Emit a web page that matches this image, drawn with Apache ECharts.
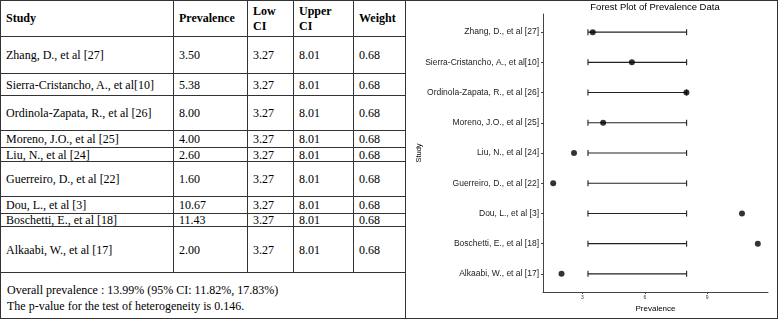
<!DOCTYPE html>
<html>
<head>
<meta charset="utf-8">
<script src="https://cdn.jsdelivr.net/npm/echarts@6/dist/echarts.min.js"></script>
<style>
  html, body { margin: 0; padding: 0; background: #fff; }
  #page { position: relative; width: 778px; height: 320px; overflow: hidden; }
  #tbl {
    position: absolute; left: 0; top: 0;
    border-collapse: collapse; table-layout: fixed;
    font-family: "Liberation Serif", "DejaVu Serif", serif;
    font-size: 12px; color: #000;
  }
  #tbl td, #tbl th {
    border: 1px solid #333; padding: 0 5px; line-height: 12px;
    text-align: left; vertical-align: middle; overflow: hidden; white-space: nowrap;
  }
  #tbl th { font-weight: bold; line-height: 15px; }
  #tbl td.foot { line-height: 16px; padding-left: 6px; padding-top: 4px; }
  #plotBox {
    position: absolute; left: 405px; top: 0; width: 371px; height: 317px;
    border: 1px solid #333;
  }
  #myChart { width: 371px; height: 317px; }
</style>
</head>
<body>
<div id="page">
  <table id="tbl"></table>
  <div id="plotBox"><div id="myChart"></div></div>
</div>
<script>
  // 数据
  var headers = ['Study', 'Prevalence', 'Low<br>CI', 'Upper<br>CI', 'Weight'];
  var studies = ['Zhang, D., et al [27]', 'Sierra-Cristancho, A., et al[10]', 'Ordinola-Zapata, R., et al [26]',
    'Moreno, J.O., et al [25]', 'Liu, N., et al [24]', 'Guerreiro, D., et al [22]',
    'Dou, L., et al [3]', 'Boschetti, E., et al [18]', 'Alkaabi, W., et al [17]'];
  var prevalence = [3.50, 5.38, 8.00, 4.00, 2.60, 1.60, 10.67, 11.43, 2.00];
  var lowCI = [3.27, 3.27, 3.27, 3.27, 3.27, 3.27, 3.27, 3.27, 3.27];
  var upperCI = [8.01, 8.01, 8.01, 8.01, 8.01, 8.01, 8.01, 8.01, 8.01];
  var weight = [0.68, 0.68, 0.68, 0.68, 0.68, 0.68, 0.68, 0.68, 0.68];
  var footer = ['Overall prevalence : 13.99% (95% CI: 11.82%, 17.83%)',
    'The p-value for the test of heterogeneity is 0.146.'];
  var xTicks = [3, 6, 9];

  // table layout
  var colWidths = [173, 74, 46, 60, 52];
  var rowHeights = [37, 22, 35, 17, 14, 35, 17, 13, 46];

  var html = '<colgroup>';
  for (var c = 0; c < colWidths.length; c++) {
    html += '<col style="width:' + colWidths[c] + 'px">';
  }
  html += '</colgroup><tr style="height:36px">';
  for (var h = 0; h < headers.length; h++) {
    html += '<th>' + headers[h] + '</th>';
  }
  html += '</tr>';
  for (var i = 0; i < studies.length; i++) {
    html += '<tr style="height:' + rowHeights[i] + 'px">' +
      '<td>' + studies[i] + '</td>' +
      '<td>' + prevalence[i].toFixed(2) + '</td>' +
      '<td>' + lowCI[i].toFixed(2) + '</td>' +
      '<td>' + upperCI[i].toFixed(2) + '</td>' +
      '<td>' + weight[i].toFixed(2) + '</td></tr>';
  }
  html += '<tr style="height:46px"><td class="foot" colspan="5">' + footer.join('<br>') + '</td></tr>';
  document.getElementById('tbl').innerHTML = html;

  // forest plot
  var rowIdx = [];
  var barData = [];
  var pointData = [];
  for (var k = 0; k < studies.length; k++) {
    rowIdx.push(k + 1);
    barData.push([lowCI[k], upperCI[k], k + 1]);
    pointData.push([prevalence[k], k + 1]);
  }

  var myChart = echarts.init(document.getElementById('myChart'));
  var sans = '"Liberation Sans", Arial, sans-serif';
  var option = {
    animation: false,
    graphic: [
      {
        type: 'text', x: 249, y: 1,
        style: { text: 'Forest Plot of Prevalence Data', textAlign: 'center', fill: '#000',
          font: '9.5px ' + sans }
      },
      {
        // y axis title
        type: 'text', x: 13, y: 152, rotation: Math.PI / 2,
        style: { text: 'Study', textAlign: 'center', textVerticalAlign: 'middle', fill: '#000',
          font: '7.5px ' + sans }
      }
    ],
    grid: { left: 137, right: 9, top: 13, bottom: 26, containLabel: false, outerBoundsMode: 'none' },
    xAxis: {
      type: 'value', min: 1.11, max: 11.92,
      name: 'Prevalence', nameLocation: 'middle', nameGap: 9,
      nameTextStyle: { fontSize: 8, color: '#000', fontFamily: sans },
      axisLine: { lineStyle: { color: '#444', width: 1 } },
      axisTick: { show: true, length: 2, customValues: xTicks, lineStyle: { color: '#444' } },
      axisLabel: { customValues: xTicks, fontSize: 5, color: '#333', margin: 3, fontFamily: sans },
      splitLine: { show: false }
    },
    yAxis: {
      type: 'value', inverse: true, min: 0.4, max: 9.6,
      axisLine: { show: true, lineStyle: { color: '#444', width: 1 } },
      axisTick: { show: true, length: 2, customValues: rowIdx, lineStyle: { color: '#444' } },
      axisLabel: {
        customValues: rowIdx, fontSize: 8.5, color: '#222', margin: 4, fontFamily: sans,
        formatter: function (v) { return studies[Math.round(v) - 1]; }
      },
      splitLine: { show: false }
    },
    series: [
      {
        type: 'custom',
        data: barData,
        encode: { x: [0, 1], y: 2 },
        renderItem: function (params, api) {
          var y = api.value(2);
          var p1 = api.coord([api.value(0), y]);
          var p2 = api.coord([api.value(1), y]);
          var st = { stroke: '#222', lineWidth: 1.1 };
          return {
            type: 'group',
            children: [
              { type: 'line', shape: { x1: p1[0], y1: p1[1], x2: p2[0], y2: p2[1] }, style: st },
              { type: 'line', shape: { x1: p1[0], y1: p1[1] - 3, x2: p1[0], y2: p1[1] + 3 }, style: st },
              { type: 'line', shape: { x1: p2[0], y1: p2[1] - 3, x2: p2[0], y2: p2[1] + 3 }, style: st }
            ]
          };
        }
      },
      {
        type: 'scatter',
        data: pointData,
        symbol: 'circle',
        symbolSize: 6,
        itemStyle: { color: '#000' },
        z: 5
      }
    ]
  };
  myChart.setOption(option);
</script>
</body>
</html>
